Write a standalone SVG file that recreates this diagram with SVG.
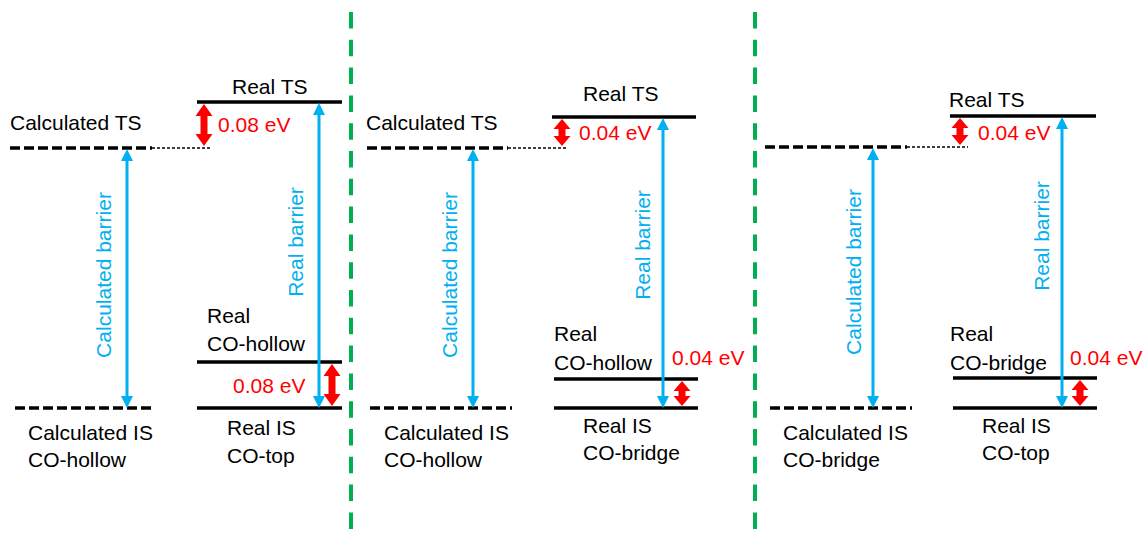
<svg xmlns="http://www.w3.org/2000/svg" width="1146" height="533" viewBox="0 0 1146 533">
<style>
text{font-family:"Liberation Sans",Arial,sans-serif;font-size:21px;fill:#000}
.red{fill:#FF0000}
.blue{fill:#00B0F0}
.solid{stroke:#000;stroke-width:3.5;fill:none}
.dash{stroke:#000;stroke-width:3.5;stroke-dasharray:10 4;fill:none}
.thin{stroke:#000;stroke-width:1.5;stroke-dasharray:3 2;fill:none}
.sep{stroke:#00B050;stroke-width:4;stroke-dasharray:16.5 11.3;fill:none}
.barr{stroke:#00B0F0;stroke-width:3;fill:none;marker-start:url(#bh);marker-end:url(#bh)}
.rarr{fill:#FF0000;stroke:none}
</style>
<defs>
<marker id="bh" viewBox="0 0 12 12" refX="1" refY="6" markerWidth="12" markerHeight="12" markerUnits="userSpaceOnUse" orient="auto-start-reverse">
<path d="M0,0 L12,6 L0,12 z" fill="#00B0F0"/>
</marker>
</defs>
<g id="separators">
<line class="sep" x1="351" y1="12" x2="351" y2="533"/>
<line class="sep" x1="755" y1="12" x2="755" y2="533"/>
</g>
<g id="panel1">
<g id="p1-calc-ts"><line class="dash" x1="10" y1="148" x2="152" y2="148"/><line class="thin" x1="152" y1="148" x2="212" y2="148"/><text x="10" y="130">Calculated TS</text></g>
<g id="p1-real-ts"><line class="solid" x1="197" y1="102" x2="342" y2="102"/><text x="232" y="94">Real TS</text></g>
<g id="p1-real-hollow"><line class="solid" x1="197" y1="362" x2="342" y2="362"/><text x="207" y="323">Real</text><text x="207" y="351">CO-hollow</text></g>
<g id="p1-calc-is"><line class="dash" x1="15" y1="408" x2="155" y2="408"/><text x="28" y="440">Calculated IS</text><text x="28" y="467">CO-hollow</text></g>
<g id="p1-real-is"><line class="solid" x1="197" y1="408" x2="342" y2="408"/><text x="227" y="435">Real IS</text><text x="227" y="463">CO-top</text></g>
</g>
<g id="panel2">
<g id="p2-calc-ts"><line class="dash" x1="367" y1="148" x2="508" y2="148"/><line class="thin" x1="508" y1="148" x2="568" y2="148"/><text x="366" y="130">Calculated TS</text></g>
<g id="p2-real-ts"><line class="solid" x1="552" y1="117" x2="696" y2="117"/><text x="583" y="101">Real TS</text></g>
<g id="p2-real-hollow"><line class="solid" x1="554" y1="379" x2="698" y2="379"/><text x="554" y="341">Real</text><text x="554" y="370">CO-hollow</text></g>
<g id="p2-calc-is"><line class="dash" x1="370" y1="408" x2="512" y2="408"/><text x="384" y="440">Calculated IS</text><text x="384" y="467">CO-hollow</text></g>
<g id="p2-real-is"><line class="solid" x1="554" y1="408" x2="698" y2="408"/><text x="583" y="433">Real IS</text><text x="583" y="460">CO-bridge</text></g>
</g>
<g id="panel3">
<g id="p3-calc-ts"><line class="dash" x1="765" y1="147" x2="907" y2="147"/><line class="thin" x1="907" y1="147" x2="968" y2="147"/></g>
<g id="p3-real-ts"><line class="solid" x1="950" y1="116" x2="1096" y2="116"/><text x="949" y="107">Real TS</text></g>
<g id="p3-real-bridge"><line class="solid" x1="953" y1="378" x2="1097" y2="378"/><text x="950" y="341">Real</text><text x="950" y="370">CO-bridge</text></g>
<g id="p3-calc-is"><line class="dash" x1="770" y1="408" x2="912" y2="408"/><text x="783" y="440">Calculated IS</text><text x="783" y="467">CO-bridge</text></g>
<g id="p3-real-is"><line class="solid" x1="953" y1="408" x2="1097" y2="408"/><text x="982" y="433">Real IS</text><text x="982" y="460">CO-top</text></g>
</g>
<g id="connectors">
<line class="barr" x1="127" y1="160" x2="127" y2="397"/>
<line class="barr" x1="319" y1="114" x2="319" y2="397"/>
<line class="barr" x1="473" y1="160" x2="473" y2="397"/>
<line class="barr" x1="663" y1="129" x2="663" y2="397"/>
<line class="barr" x1="873" y1="159" x2="873" y2="397"/>
<line class="barr" x1="1062" y1="128" x2="1062" y2="397"/>
<polygon class="rarr" points="204,104 212.5,116 207.5,116 207.5,134 212.5,134 204,146 195.5,134 200.5,134 200.5,116 195.5,116"/>
<polygon class="rarr" points="332,364 340.5,376 335.5,376 335.5,394 340.5,394 332,406 323.5,394 328.5,394 328.5,376 323.5,376"/>
<polygon class="rarr" points="562,119 570.5,129 565.5,129 565.5,136 570.5,136 562,146 553.5,136 558.5,136 558.5,129 553.5,129"/>
<polygon class="rarr" points="682,381 690.5,391 685.5,391 685.5,396 690.5,396 682,406 673.5,396 678.5,396 678.5,391 673.5,391"/>
<polygon class="rarr" points="960,118 968.5,128 963.5,128 963.5,135 968.5,135 960,145 951.5,135 956.5,135 956.5,128 951.5,128"/>
<polygon class="rarr" points="1080,380 1088.5,390 1083.5,390 1083.5,396 1088.5,396 1080,406 1071.5,396 1076.5,396 1076.5,390 1071.5,390"/>
</g>
<g id="labels">
<text class="red" x="218" y="132">0.08 eV</text>
<text class="red" x="233" y="393">0.08 eV</text>
<text class="red" x="579" y="140">0.04 eV</text>
<text class="red" x="672" y="365">0.04 eV</text>
<text class="red" x="978" y="140">0.04 eV</text>
<text class="red" x="1070" y="365">0.04 eV</text>
<text class="blue" x="111" y="275" text-anchor="middle" transform="rotate(-90 111 275)">Calculated barrier</text>
<text class="blue" x="303" y="242" text-anchor="middle" transform="rotate(-90 303 242)">Real barrier</text>
<text class="blue" x="457" y="275" text-anchor="middle" transform="rotate(-90 457 275)">Calculated barrier</text>
<text class="blue" x="650" y="245" text-anchor="middle" transform="rotate(-90 650 245)">Real barrier</text>
<text class="blue" x="861" y="272" text-anchor="middle" transform="rotate(-90 861 272)">Calculated barrier</text>
<text class="blue" x="1049" y="236" text-anchor="middle" transform="rotate(-90 1049 236)">Real barrier</text>
</g>
</svg>
